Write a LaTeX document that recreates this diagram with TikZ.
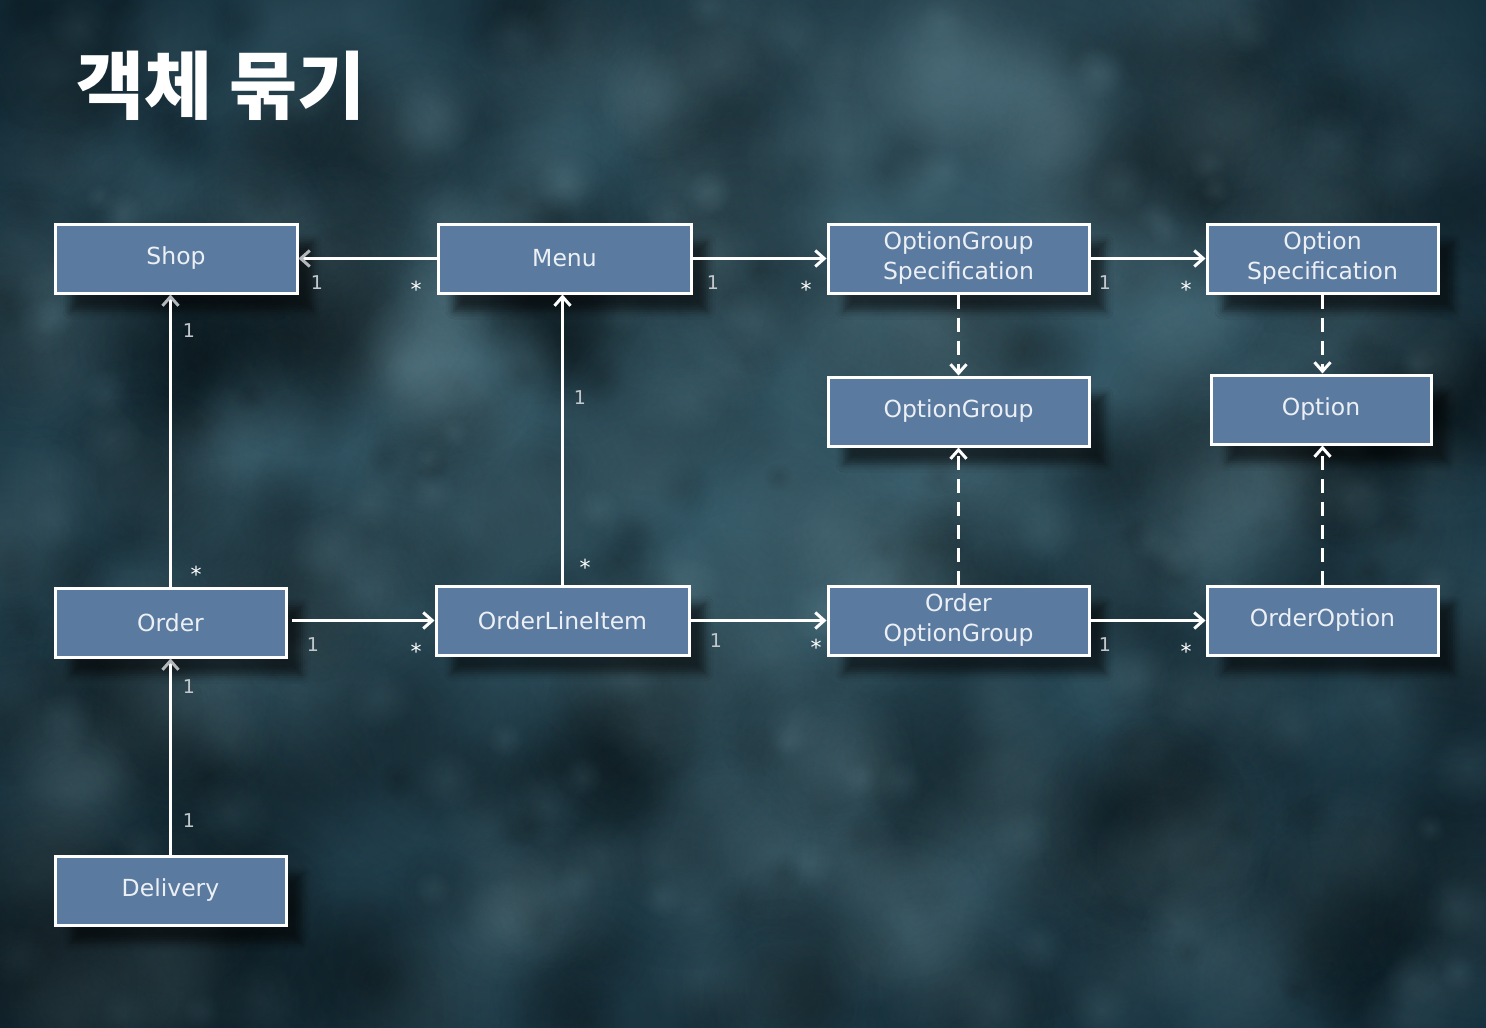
\documentclass[tikz,border=0pt]{standalone}
\usepackage{fontspec}
\setmainfont{DejaVu Sans}
\newfontfamily\krfont{Noto Sans CJK KR}
\usetikzlibrary{arrows.meta,shadows.blur,fadings}
\definecolor{boxfill}{HTML}{5A7AA0}
\definecolor{boxtext}{HTML}{ECF0F5}
\definecolor{bgmid}{HTML}{3A6170}
\definecolor{bgedge}{HTML}{17323F}
\definecolor{tipgray}{HTML}{B4B8BC}
\definecolor{labgray}{HTML}{C4C8CC}
\definecolor{lightspot}{HTML}{7FA5B0}
\tikzfading[name=softdot, inner color=transparent!0, outer color=transparent!100]
\begin{document}
\begin{tikzpicture}[x=1pt,y=-1pt,
  cls/.style={draw=white, line width=3pt, fill=boxfill, text=boxtext,
    font=\fontsize{23.5}{30}\selectfont, align=center, inner sep=0pt,
    minimum height=69pt,
    blur shadow={shadow xshift=16pt, shadow yshift=-18pt, shadow blur radius=8pt, shadow opacity=55}},
  assoc/.style={draw=white, line width=3pt, -{Straight Barb[length=9pt,width=16pt,line width=3pt]}},
  assocg/.style={draw=white, line width=3pt, -{Straight Barb[length=9pt,width=16pt,line width=3pt,color=tipgray]}},
  dep/.style={draw=white, line width=3pt, dash pattern=on 14pt off 9pt, -{Straight Barb[length=9pt,width=16pt,line width=3pt]}},
  mult/.style={text=labgray, font=\fontsize{19}{20}\selectfont, inner sep=0pt},
  star/.style={text=white, font=\fontsize{22}{22}\selectfont, inner sep=0pt}]
\useasboundingbox (0,0) rectangle (1486,1028);
% background
\shade[inner color=bgmid, outer color=bgedge] (-250,-200) rectangle (1736,1228);
\pgfmathsetseed{11}
\foreach \i in {1,...,420}{
  \pgfmathsetmacro\px{random(0,1486)}
  \pgfmathsetmacro\py{random(0,1028)}
  \pgfmathsetmacro\pr{random(15,130)}
  \fill[black, opacity=0.16, path fading=softdot] (\px,\py) circle (\pr);
}
\foreach \i in {1,...,320}{
  \pgfmathsetmacro\px{random(0,1486)}
  \pgfmathsetmacro\py{random(0,1028)}
  \pgfmathsetmacro\pr{random(15,110)}
  \fill[lightspot, opacity=0.12, path fading=softdot] (\px,\py) circle (\pr);
}
\fill[black, opacity=0.35, path fading=softdot] (80,1020) circle (380);
\fill[lightspot, opacity=0.18, path fading=softdot] (1000,150) circle (420);
% title
\node[text=white, font=\krfont\bfseries\fontsize{74}{80}\selectfont, anchor=west, inner sep=0pt] (title) at (76,86) {객체 묶기};
% classes
\node[cls, minimum width=242pt] (shop) at (176,258.5) {Shop};
\node[cls, minimum width=253pt] (menu) at (564.5,258.5) {Menu};
\node[cls, minimum width=261pt] (ogs) at (958.5,258.5) {OptionGroup\\Specification};
\node[cls, minimum width=231pt] (os) at (1322.5,258.5) {Option\\Specification};
\node[cls, minimum width=261pt] (og) at (958.5,411.5) {OptionGroup};
\node[cls, minimum width=220pt] (opt) at (1321,409.5) {Option};
\node[cls, minimum width=231pt] (order) at (170.5,622.5) {Order};
\node[cls, minimum width=253pt] (oli) at (562.5,620.5) {OrderLineItem};
\node[cls, minimum width=261pt] (oog) at (958.5,620.5) {Order\\OptionGroup};
\node[cls, minimum width=231pt] (oo) at (1322.5,620.5) {OrderOption};
\node[cls, minimum width=231pt] (deliv) at (170.5,890.5) {Delivery};
% connectors
\draw[assocg] (menu.west) -- (shop.east);
\draw[assoc] (menu.east) -- (ogs.west);
\draw[assoc] (ogs.east) -- (os.west);
\draw[dep] (ogs.south) -- (og.north);
\draw[dep] (os.south) -- (os.south |- opt.north);
\draw[assocg] (order.north) -- (order.north |- shop.south);
\draw[assoc] (oli.north) -- (oli.north |- menu.south);
\draw[assoc, shorten <=4pt] (order.east |- oli) -- (oli.west);
\draw[assoc] (oli.east) -- (oog.west);
\draw[assoc] (oog.east) -- (oo.west);
\draw[dep] (oog.north) -- (og.south);
\draw[dep] (oo.north) -- (oo.north |- opt.south);
\draw[assocg] (deliv.north) -- (order.south);
% multiplicities
\node[mult] (m1) at (317,283) {1};
\node[star] (s1) at (416,289) {*};
\node[mult] (m2) at (713,283) {1};
\node[star] (s2) at (806,289) {*};
\node[mult] (m3) at (1105,283) {1};
\node[star] (s3) at (1186,289) {*};
\node[mult] (m4) at (189,331) {1};
\node[star] (s4) at (196,574) {*};
\node[mult] (m5) at (580,398) {1};
\node[star] (s5) at (585,567) {*};
\node[mult] (m6) at (313,645) {1};
\node[star] (s6) at (416,651) {*};
\node[mult] (m7) at (716,641) {1};
\node[star] (s7) at (816,647) {*};
\node[mult] (m8) at (1105,645) {1};
\node[star] (s8) at (1186,651) {*};
\node[mult] (m9) at (189,687) {1};
\node[mult] (m10) at (189,821) {1};
\end{tikzpicture}
\end{document}
